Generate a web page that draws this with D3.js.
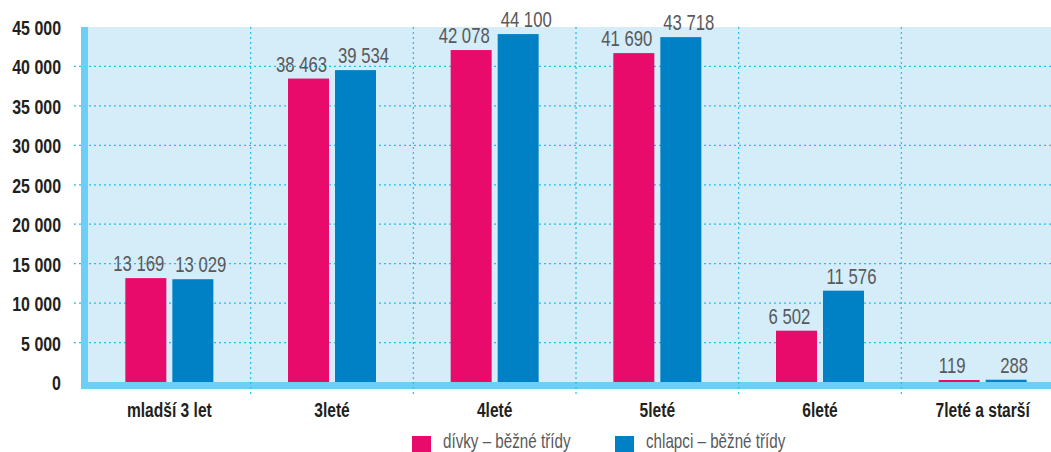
<!DOCTYPE html>
<html>
<head>
<meta charset="utf-8">
<script src="https://cdn.jsdelivr.net/npm/d3@7"></script>
<style>
  body { margin: 0; background: #fff; }
  text { font-family: "Liberation Sans", Arial, sans-serif; }
</style>
</head>
<body>
<div id="chart"></div>
<script>
//Chart data
const categories = ["mladší 3 let", "3leté", "4leté", "5leté", "6leté", "7leté a starší"];
const seriesNames = ["dívky – běžné třídy", "chlapci – běžné třídy"];
const divky = [13169, 38463, 42078, 41690, 6502, 119];
const chlapci = [13029, 39534, 44100, 43718, 11576, 288];
const yTicks = [0, 5000, 10000, 15000, 20000, 25000, 30000, 35000, 40000, 45000];

const colors = ["#e80b6c", "#0080c5"];
const w = 1051;
const h = 452;
//Horizontal squeeze to imitate a condensed face
const narrow = 0.76;

const svg = d3.select("#chart")
    .append("svg")
    .attr("width", w)
    .attr("height", h);

//Scales
const x0 = d3.scaleBand()
    .domain(categories)
    .range([88, 1064]);
const x1 = d3.scaleBand()
    .domain([0, 1])
    .range([0, 88])
    .paddingInner(6 / 47);
const y = d3.scaleLinear()
    .domain([0, 45000])
    .range([382, 27]);

const fmt = (v) => d3.format(",")(v).replace(/,/g, " ");
const place = (px, py) => "translate(" + px + "," + py + ") scale(" + narrow + ",1)";

//Plot background
svg.append("rect")
    .attr("x", 81).attr("y", y(45000))
    .attr("width", w - 81).attr("height", 389 - y(45000))
    .attr("fill", "#d5ecf9");

//Horizontal grid
svg.append("g")
    .selectAll("line")
    .data(yTicks.filter(d => d > 0 && d < 45000))
    .join("line")
    .attr("x1", 74).attr("x2", w)
    .attr("y1", d => y(d)).attr("y2", d => y(d))
    .attr("stroke", "#1fc0ee")
    .attr("stroke-width", 1.2)
    .attr("stroke-dasharray", "2,3");

//Bars
const groups = svg.append("g")
    .selectAll("g")
    .data(categories)
    .join("g")
    .attr("transform", d => "translate(" + (x0(d) + x0.bandwidth() / 2 - 44) + ",0)");

const rows = (d, ci) => [divky[ci], chlapci[ci]].map((v, i) => ({ v: v, i: i }));

groups.selectAll("rect")
    .data((d, ci) => rows(d, ci))
    .join("rect")
    .attr("x", d => x1(d.i))
    .attr("width", x1.bandwidth())
    .attr("y", d => Math.min(y(d.v), y(0) - 2))
    .attr("height", d => Math.max(2, y(0) - y(d.v)))
    .attr("fill", d => colors[d.i]);

//Value labels (nudged outward, as in the original)
groups.selectAll("text")
    .data((d, ci) => rows(d, ci))
    .join("text")
    .attr("transform", d => place(x1(d.i) + x1.bandwidth() / 2 + (d.i === 0 ? -7 : 8),
        Math.min(y(d.v), y(0) - 2) - 7))
    .attr("text-anchor", "middle")
    .attr("font-size", 22)
    .attr("fill", "#58595b")
    .text(d => fmt(d.v));

//Axis bars
svg.append("rect")
    .attr("x", 81).attr("y", y(45000))
    .attr("width", 7).attr("height", 389 - y(45000))
    .attr("fill", "#6dcff6");
svg.append("rect")
    .attr("x", 81).attr("y", 382)
    .attr("width", w - 81).attr("height", 7)
    .attr("fill", "#6dcff6");

//Vertical grid at category boundaries
svg.append("g")
    .selectAll("line")
    .data(categories.slice(1))
    .join("line")
    .attr("x1", d => x0(d)).attr("x2", d => x0(d))
    .attr("y1", y(45000)).attr("y2", 396)
    .attr("stroke", "#1fc0ee")
    .attr("stroke-width", 1.2)
    .attr("stroke-dasharray", "2,3");

//Y tick labels
svg.append("g")
    .selectAll("text")
    .data(yTicks)
    .join("text")
    .attr("transform", d => place(61, y(d) + 8))
    .attr("text-anchor", "end")
    .attr("font-size", 21)
    .attr("font-weight", "bold")
    .attr("fill", "#231f20")
    .text(fmt);

//Category labels
svg.append("g")
    .selectAll("text")
    .data(categories)
    .join("text")
    .attr("transform", d => place(x0(d) + x0.bandwidth() / 2, 417))
    .attr("text-anchor", "middle")
    .attr("font-size", 20.5)
    .attr("font-weight", "bold")
    .attr("fill", "#231f20")
    .text(d => d);

//Legend
const legX = [412, 615];
const leg = svg.append("g")
    .selectAll("g")
    .data(seriesNames)
    .join("g")
    .attr("transform", (d, i) => "translate(" + legX[i] + ",436)");
leg.append("rect")
    .attr("width", 19).attr("height", 19)
    .attr("fill", (d, i) => colors[i]);
leg.append("text")
    .attr("transform", place(31, 12))
    .attr("font-size", 20)
    .attr("fill", "#58595b")
    .text(d => d);
</script>
</body>
</html>
